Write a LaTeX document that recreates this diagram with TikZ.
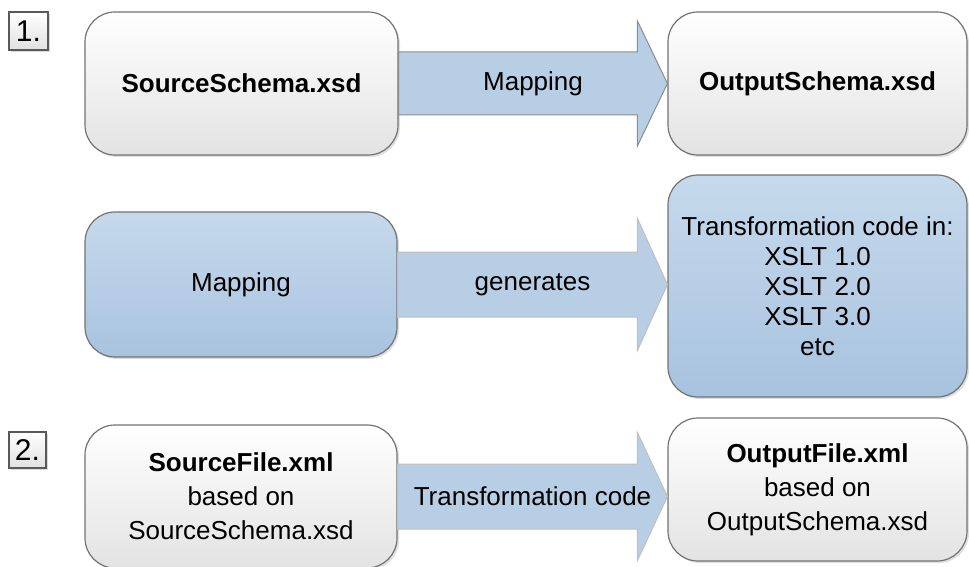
\documentclass[tikz,border=0pt]{standalone}
\usepackage{fontspec}
\setmainfont{Liberation Sans}
\usetikzlibrary{calc,shadows}
\definecolor{boxtop}{HTML}{C6D9EC}
\definecolor{boxbottom}{HTML}{A8C3DF}
\definecolor{arrowfill}{HTML}{B7CEE5}
\begin{document}
\begin{tikzpicture}[x=1pt,y=1pt,
  whitebox/.style={draw=black!55,line width=1.2pt,rounded corners=30pt,top color=white,bottom color=black!11,drop shadow={shadow xshift=2pt,shadow yshift=-2pt,opacity=0.25},align=center,inner sep=0pt,font=\fontsize{26}{34}\selectfont},
  bluebox/.style={whitebox,top color=boxtop,bottom color=boxbottom},
  numbox/.style={draw=black!65,line width=1.2pt,top color=white,bottom color=black!12,drop shadow={shadow xshift=2pt,shadow yshift=-2pt,opacity=0.3},inner sep=0pt,font=\fontsize{30}{30}\selectfont},
  fatarrow/.style={draw=black!45,line width=1pt,fill=arrowfill},
  arrowtext/.style={font=\fontsize{26}{30}\selectfont}]
  \useasboundingbox (0,0) rectangle (969,566);

  % step 1
  \node[numbox,minimum width=39pt,minimum height=38pt] (num1) at (28.5,535) {1.};
  \node[whitebox,minimum width=313pt,minimum height=143pt] (src1) at (241.5,482.5) {\textbf{SourceSchema.xsd}};
  \node[whitebox,minimum width=299pt,minimum height=143pt] (out1) at (817.5,482.5) {\textbf{OutputSchema.xsd}};
  \node[bluebox,minimum width=312pt,minimum height=145pt] (map) at (241,281.5) {Mapping};
  \node[bluebox,minimum width=299pt,minimum height=222pt,font=\fontsize{26}{30}\selectfont] (trans) at (817.5,280) {Transformation code in:\\XSLT 1.0\\XSLT 2.0\\XSLT 3.0\\etc};

  % step 2
  \node[numbox,minimum width=37pt,minimum height=36pt] (num2) at (27.5,116) {2.};
  \node[whitebox,minimum width=312pt,minimum height=143pt] (src2) at (241,69.5) {\textbf{SourceFile.xml}\\based on\\SourceSchema.xsd};
  \node[whitebox,minimum width=299pt,minimum height=143pt] (out2) at (817.5,76.5) {\textbf{OutputFile.xml}\\based on\\OutputSchema.xsd};

  % arrows
  \draw[fatarrow] ($(src1.east)+(0,31.5)$) -- ($(src1.east -| out1.west)+(-30,31.5)$) -- ($(src1.east -| out1.west)+(-30,62.5)$) -- (src1.east -| out1.west) -- ($(src1.east -| out1.west)+(-30,-62.5)$) -- ($(src1.east -| out1.west)+(-30,-31.5)$) -- ($(src1.east)+(0,-31.5)$) -- cycle;
  \node[arrowtext] (lbl1) at ($(src1.east)!0.5!(src1.east -| out1.west)$) {Mapping};

  \draw[fatarrow,draw=black!25] ($(map.east)+(0,32.5)$) -- ($(map.east -| trans.west)+(-30,32.5)$) -- ($(map.east -| trans.west)+(-30,66)$) -- (map.east -| trans.west) -- ($(map.east -| trans.west)+(-30,-66)$) -- ($(map.east -| trans.west)+(-30,-32.5)$) -- ($(map.east)+(0,-32.5)$) -- cycle;
  \node[arrowtext] (lbl2) at ($(map.east)!0.5!(map.east -| trans.west)$) {generates};

  \draw[fatarrow,draw=black!25] ($(src2.east)+(0,32.5)$) -- ($(src2.east -| out2.west)+(-30,32.5)$) -- ($(src2.east -| out2.west)+(-30,64)$) -- (src2.east -| out2.west) -- ($(src2.east -| out2.west)+(-30,-64)$) -- ($(src2.east -| out2.west)+(-30,-32.5)$) -- ($(src2.east)+(0,-32.5)$) -- cycle;
  \node[arrowtext] (lbl3) at ($(src2.east)!0.5!(src2.east -| out2.west)$) {Transformation code};
\end{tikzpicture}
\end{document}
